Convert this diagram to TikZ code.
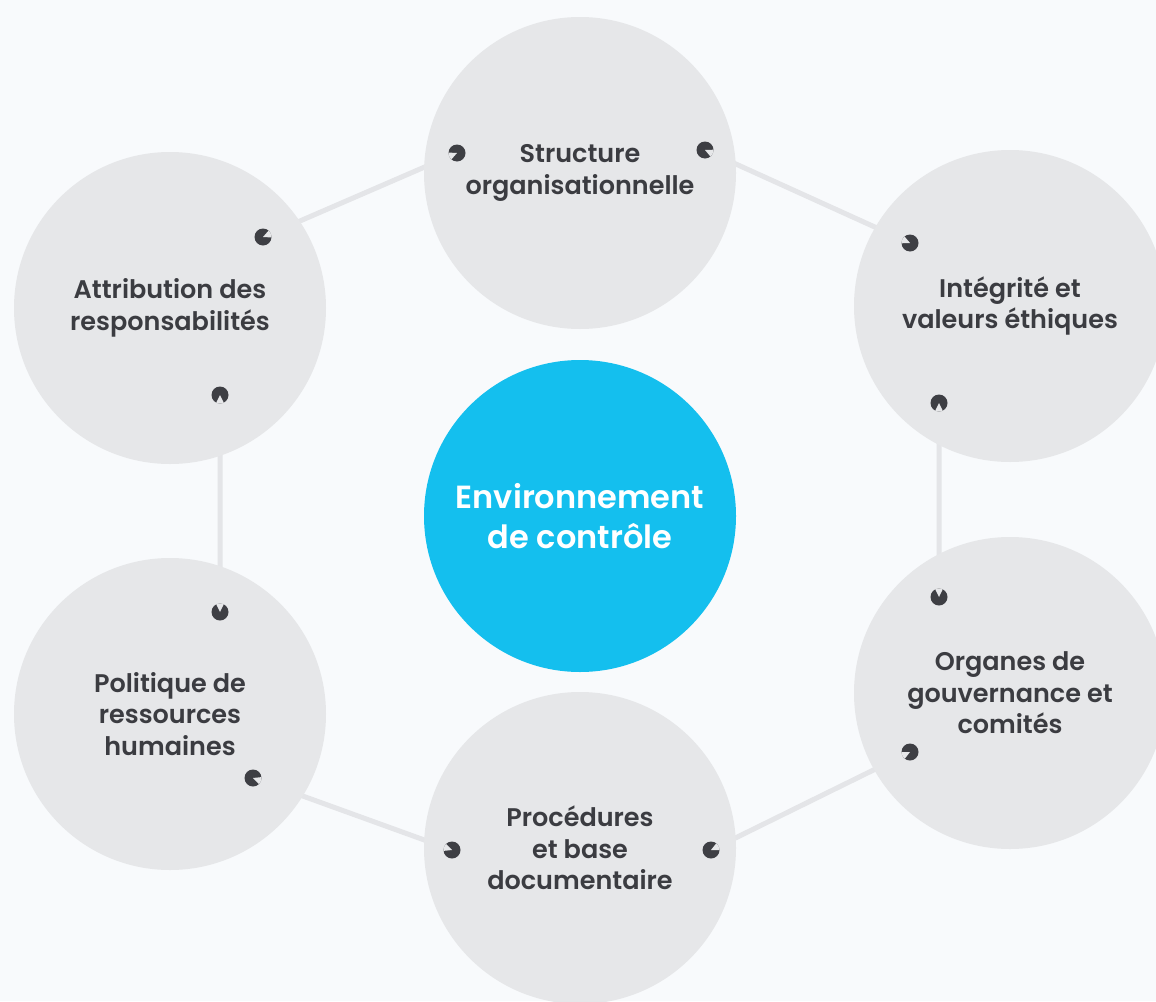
\documentclass[tikz,border=0pt]{standalone}
\usepackage{fontspec}
\setmainfont{Poppins}[BoldFont={Poppins SemiBold}]
\usetikzlibrary{backgrounds}

\definecolor{pagebg}{HTML}{F8FAFC}
\definecolor{ringgray}{HTML}{E6E7E9}
\definecolor{linkgray}{HTML}{E4E5E8}
\definecolor{inkgray}{HTML}{3B3C41}
\definecolor{dotgray}{HTML}{3E3F44}
\definecolor{skyblue}{HTML}{14BFEE}

\tikzset{
  topic/.style={circle, fill=ringgray, minimum size=312pt, inner sep=0pt,
    text=inkgray, align=center, font=\bfseries\fontsize{25.5}{31.5}\selectfont},
  hub/.style={circle, fill=skyblue, minimum size=312pt, inner sep=0pt,
    text=white, align=center, font=\bfseries\fontsize{32}{40}\selectfont},
  % little notched dot, #1 = direction of the notch
  dot/.style={circle, fill=dotgray, minimum size=17pt, inner sep=0pt,
    path picture={\fill[ringgray] (path picture bounding box.center)
      -- ++(#1-26:11pt) arc[start angle=#1-26, end angle=#1+26, radius=11pt] -- cycle;}},
  link/.style={draw=linkgray, line width=5pt}
}

\begin{document}
\begin{tikzpicture}[x=1pt, y=-1pt]
                \useasboundingbox (0,0) rectangle (1156,1001);

                \node[topic] (t) at (580, 173) {Structure\\organisationnelle};
                \node[topic] (tl) at (170, 308) {Attribution des\\responsabilités};
                \node[topic] (tr) at (1010, 306) {Intégrité et\\valeurs éthiques};
                \node[topic] (bl) at (170, 714) {Politique de\\ressources\\humaines};
                \node[topic] (br) at (1010, 693) {Organes de\\gouvernance et\\comités};
                \node[topic] (b) at (580, 848) {Procédures\\et base\\documentaire};
                \node[hub] (c) at (580, 516) {Environnement\\de contrôle};

                \node[dot=203] (t1) at (457, 153) {};
                \node[dot=336] (t2) at (705, 150) {};
                \node[dot=156] (tr1) at (910, 243) {};
                \node[dot=270] (tr2) at (939, 403) {};
                \node[dot=90] (br1) at (939, 597) {};
                \node[dot=206] (br2) at (910, 752) {};
                \node[dot=26] (b2) at (711, 850) {};
                \node[dot=160] (b1) at (452, 850) {};
                \node[dot=340] (bl2) at (253, 778) {};
                \node[dot=90] (bl1) at (220, 612) {};
                \node[dot=270] (tl2) at (220, 395) {};
                \node[dot=23] (tl1) at (263, 237) {};

                \begin{scope}[on background layer]
                \fill[pagebg] (0,0) rectangle (1156,1001);
                \draw[link]
                (tl1.center) -- (t1.center)
                (t2.center) -- (tr1.center)
                (tr2.center) -- (br1.center)
                (br2.center) -- (b2.center)
                (b1.center) -- (bl2.center)
                (bl1.center) -- (tl2.center);
                \end{scope}
            \end{tikzpicture}
\end{document}
